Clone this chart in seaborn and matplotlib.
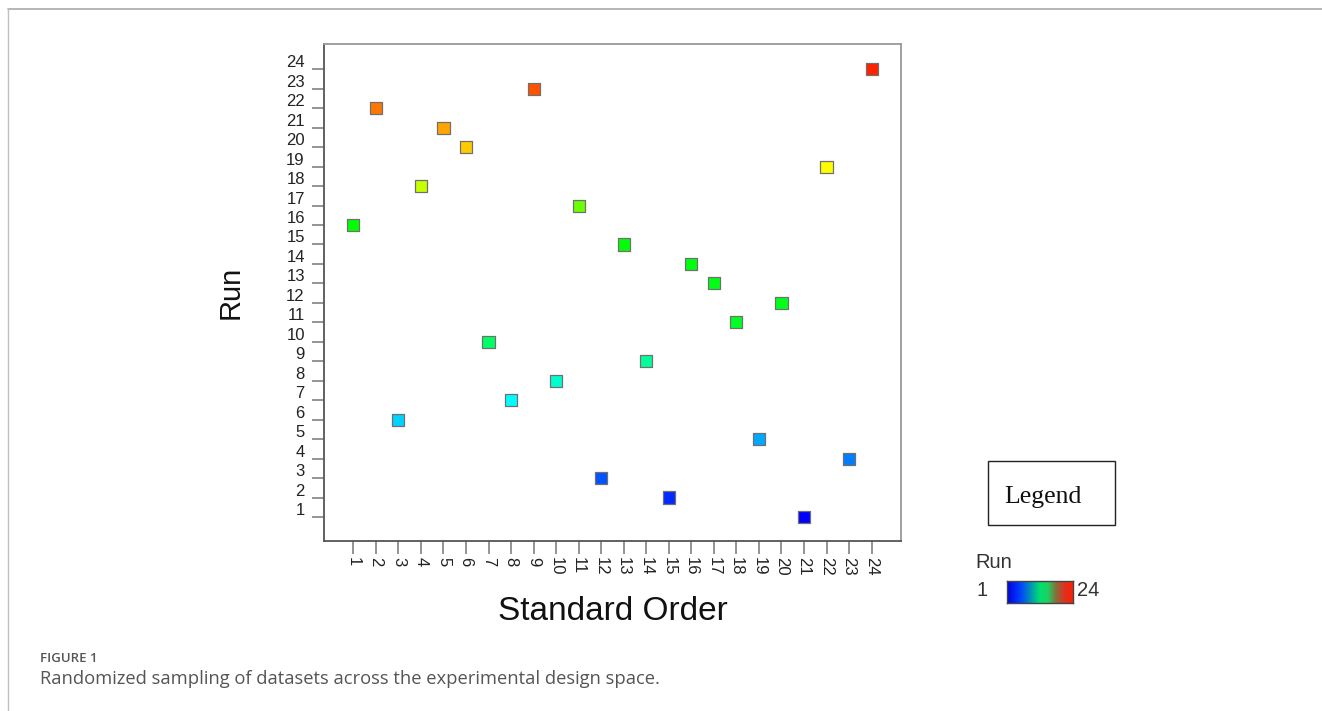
import numpy as np
import pandas as pd
import matplotlib
matplotlib.use("Agg")
import matplotlib.pyplot as plt
from matplotlib.colors import LinearSegmentedColormap, Normalize
from matplotlib.transforms import ScaledTranslation
from matplotlib.lines import Line2D
from matplotlib.patches import Rectangle
import seaborn as sns

# Design runs: standard order vs randomized run order
standard_order = list(range(1, 25))
run_order = [16, 22, 6, 18, 21, 20, 10, 7, 23, 8, 17, 3,
             15, 9, 2, 14, 13, 11, 5, 12, 1, 19, 4, 24]
tick_labels = [str(i) for i in range(1, 25)]

df = pd.DataFrame({"Standard Order": standard_order, "Run": run_order})

sns.set_theme(style="white")
plt.rcParams["font.family"] = ["Liberation Sans", "DejaVu Sans"]

# Blue -> cyan -> green -> yellow -> red colour scale for the run number
stops = [(1, "#0000ff"), (7, "#00ffff"), (10, "#00ff66"), (11, "#00ff22"),
         (16, "#00ff00"), (17, "#66ff00"), (18, "#c4ff00"), (19, "#ffff00"),
         (20, "#ffcc00"), (21, "#ffa500"), (22, "#ff7700"), (23, "#ff5200"),
         (24, "#ff2200")]
run_cmap = LinearSegmentedColormap.from_list(
    "run", [((v - 1) / 23, c) for v, c in stops])
norm = Normalize(1, 24)

fig = plt.figure(figsize=(13.22, 7.11), dpi=100)
ax = fig.add_axes([0.2453, 0.2395, 0.4360, 0.6986])

sns.scatterplot(data=df, x="Standard Order", y="Run", hue="Run",
                palette=run_cmap, hue_norm=norm, marker="s", s=76,
                edgecolor="#707070", linewidth=0.9, legend=False, ax=ax,
                zorder=3)

ax.set_xlim(-0.29, 25.29)
ax.set_ylim(-0.22, 25.3)
ax.set_xticks(standard_order)
ax.set_xticklabels(tick_labels, rotation=270, fontsize=12, color="#222222")
ax.set_yticks(standard_order)
ax.set_yticklabels(tick_labels, fontsize=12, color="#222222")
ax.tick_params(axis="both", direction="out", length=9, width=1.1,
               color="#777777", left=True, bottom=True)
ax.tick_params(axis="y", pad=5)
ax.tick_params(axis="x", pad=3)

# Run labels sit slightly above their tick marks
for lab in ax.get_yticklabels():
    lab.set_transform(lab.get_transform() +
                      ScaledTranslation(0, 0.08, fig.dpi_scale_trans))

for side, spine in ax.spines.items():
    spine.set_visible(True)
    spine.set_linewidth(1.3)
    spine.set_color("#555555" if side in ("left", "bottom") else "#999999")

ax.set_xlabel("Standard Order", fontsize=24, color="#111111", labelpad=14)
ax.set_ylabel("Run", fontsize=21, color="#111111", labelpad=30)

# Legend box
fig.patches.append(Rectangle((988 / 1322, 1 - 525 / 711), 127 / 1322, 64 / 711,
                             transform=fig.transFigure, fill=False,
                             edgecolor="#222222", linewidth=1.0))
fig.text(1043 / 1322, 1 - 497 / 711, "Legend", ha="center", va="center",
         fontsize=18.5, family="Liberation Serif", color="#111111")

# Colour bar for the run scale
cax = fig.add_axes([1007 / 1322, 1 - 603 / 711, 66 / 1322, 22 / 711])
bar_cmap = LinearSegmentedColormap.from_list(
    "runbar", [(0, "#0000e0"), (0.2, "#0040ff"), (0.5, "#00e070"),
               (0.62, "#20d060"), (0.75, "#8a6a3a"), (0.88, "#e03020"),
               (1, "#ff2000")])
cax.imshow(np.linspace(0, 1, 256)[None, :], aspect="auto", cmap=bar_cmap)
cax.set_xticks([])
cax.set_yticks([])
for sp in cax.spines.values():
    sp.set_color("#444444")
    sp.set_linewidth(1.0)
fig.text(975 / 1322, 1 - 562 / 711, "Run", ha="left", va="center",
         fontsize=14.5, color="#333333")
fig.text(976 / 1322, 1 - 591 / 711, "1", ha="left", va="center",
         fontsize=14.5, color="#333333")
fig.text(1077 / 1322, 1 - 591 / 711, "24", ha="left", va="center",
         fontsize=14.5, color="#333333")

# Page frame and caption
fig.add_artist(Line2D([8 / 1322, 1], [1 - 9 / 711, 1 - 9 / 711],
                      transform=fig.transFigure, color="#b0b0b0", linewidth=1.3))
fig.add_artist(Line2D([8 / 1322, 8 / 1322], [0, 1 - 9 / 711],
                      transform=fig.transFigure, color="#c0c0c0", linewidth=1.0))
fig.text(40 / 1322, 1 - 659 / 711, "FIGURE 1", ha="left", va="center",
         fontsize=9.5, family="Open Sans", weight="semibold", color="#555555")
fig.text(40 / 1322, 1 - 679 / 711,
         "Randomized sampling of datasets across the experimental design space.",
         ha="left", va="center", fontsize=13.2, family="Open Sans",
         color="#555555")

fig.savefig("out.png", dpi=100)
